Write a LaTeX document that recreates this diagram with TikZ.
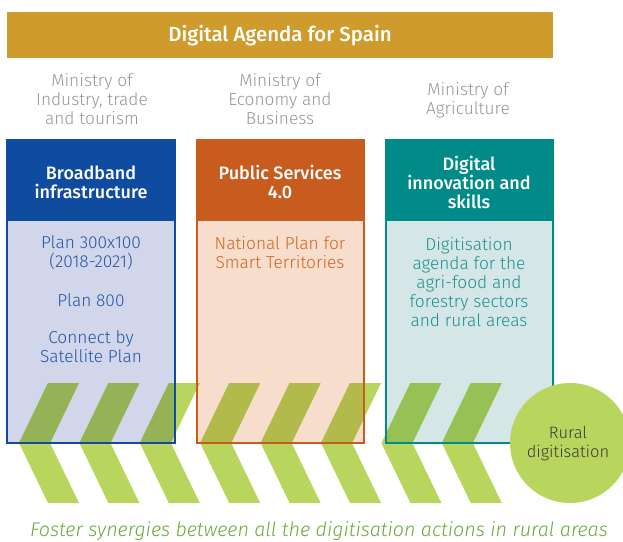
\documentclass[tikz,border=0pt]{standalone}
\usepackage{fontspec}
\setmainfont{Fira Sans}[UprightFont={* Light}, BoldFont={* Medium}, ItalicFont={* Light Italic}, BoldItalicFont={* Medium Italic}]
\definecolor{banner}{RGB}{207,155,44}
\definecolor{bluehd}{RGB}{15,76,160}
\definecolor{bluelt}{RGB}{210,214,234}
\definecolor{bluetx}{RGB}{33,87,166}
\definecolor{orghd}{RGB}{200,92,30}
\definecolor{orglt}{RGB}{247,222,204}
\definecolor{orgtx}{RGB}{208,101,31}
\definecolor{tealhd}{RGB}{0,138,136}
\definecolor{teallt}{RGB}{213,230,230}
\definecolor{tealtx}{RGB}{30,145,144}
\definecolor{chev}{RGB}{184,214,94}
\definecolor{chevblue}{RGB}{150,178,86}
\definecolor{chevorg}{RGB}{178,186,75}
\definecolor{chevteal}{RGB}{152,193,85}
\definecolor{mingray}{RGB}{150,150,150}
\definecolor{fostergreen}{RGB}{107,168,58}
\definecolor{ruraltx}{RGB}{58,58,58}
\newcommand{\chevronpath}{\foreach \i [evaluate=\i as \d using 60.4*\i] in {0,...,7} {(19+\d,443) -- (48+\d,383) -- (79+\d,383) -- (50+\d,443) -- (79+\d,503) -- (48+\d,503) -- cycle}}
\tikzset{
  txt/.style={align=center, font=\fontsize{17.3}{19}\selectfont, inner sep=0pt},
  ministry/.style={txt, text=mingray},
  hdr/.style={txt, font=\fontsize{18}{19}\selectfont\bfseries, text=white},
  boxline/.style={line width=1.2pt},
}
\begin{document}
\begin{tikzpicture}[x=1pt,y=-1pt]
\useasboundingbox (0,0) rectangle (623,541);
\clip (0,0) rectangle (623,541);
% banner
\fill[banner] (7,12) rectangle (553,58);
\node[hdr, font=\fontsize{20.4}{22}\selectfont\bfseries] (agenda) at (280,36) {Digital Agenda for Spain};
% ministries
\node[ministry] (m1) at (92,99) {Ministry of\\Industry, trade\\and tourism};
\node[ministry] (m2) at (280,99) {Ministry of\\Economy and\\Business};
\node[ministry] (m3) at (468,100) {Ministry of\\Agriculture};
% light box fills
\fill[bluelt] (7,221) rectangle (175,443);
\fill[orglt] (197,221) rectangle (364,443);
\fill[teallt] (386,221) rectangle (553,443);
% chevrons
\fill[chev] \chevronpath;
\begin{scope}
\clip (7,221) rectangle (175,443);
\fill[chevblue] \chevronpath;
\end{scope}
\begin{scope}
\clip (197,221) rectangle (364,443);
\fill[chevorg] \chevronpath;
\end{scope}
\begin{scope}
\clip (386,221) rectangle (553,443);
\fill[chevteal] \chevronpath;
\end{scope}
% box outlines and headers
\draw[boxline, bluehd] (7,140) rectangle (175,443);
\fill[bluehd] (7,140) rectangle (175,221);
\draw[boxline, orghd] (197,140) rectangle (364,443);
\fill[orghd] (197,140) rectangle (364,221);
\draw[boxline, tealhd] (386,140) rectangle (553,443);
\fill[tealhd] (386,140) rectangle (553,221);
\node[hdr] (h1) at (91,182) {Broadband\\infrastructure};
\node[hdr] (h2) at (280,182) {Public Services\\4.0};
\node[hdr] (h3) at (469,182) {Digital\\innovation and\\skills};
% body texts
\node[txt, text=bluetx] (b1a) at (91,253) {Plan 300x100\\(2018-2021)};
\node[txt, text=bluetx] (b1b) at (91,300) {Plan 800};
\node[txt, text=bluetx] (b1c) at (91,347) {Connect by\\Satellite Plan};
\node[txt, text=orgtx] (b2) at (280,253) {National Plan for\\Smart Territories};
\node[txt, text=tealtx] (b3) at (469,282) {Digitisation\\agenda for the\\agri-food and\\forestry sectors\\and rural areas};
% rural circle
\node[circle, fill=chev, minimum size=120pt, inner sep=0pt] (rural) at (570,443) {};
\node[txt, font=\fontsize{16.5}{19}\selectfont, text=ruraltx] (ruraltext) at (568,444) {Rural\\digitisation};
% footer
\node[inner sep=0pt, text=fostergreen, font=\fontsize{19.7}{22}\selectfont\itshape] (foster) at (319,531) {Foster synergies between all the digitisation actions in rural areas};
\end{tikzpicture}
\end{document}
